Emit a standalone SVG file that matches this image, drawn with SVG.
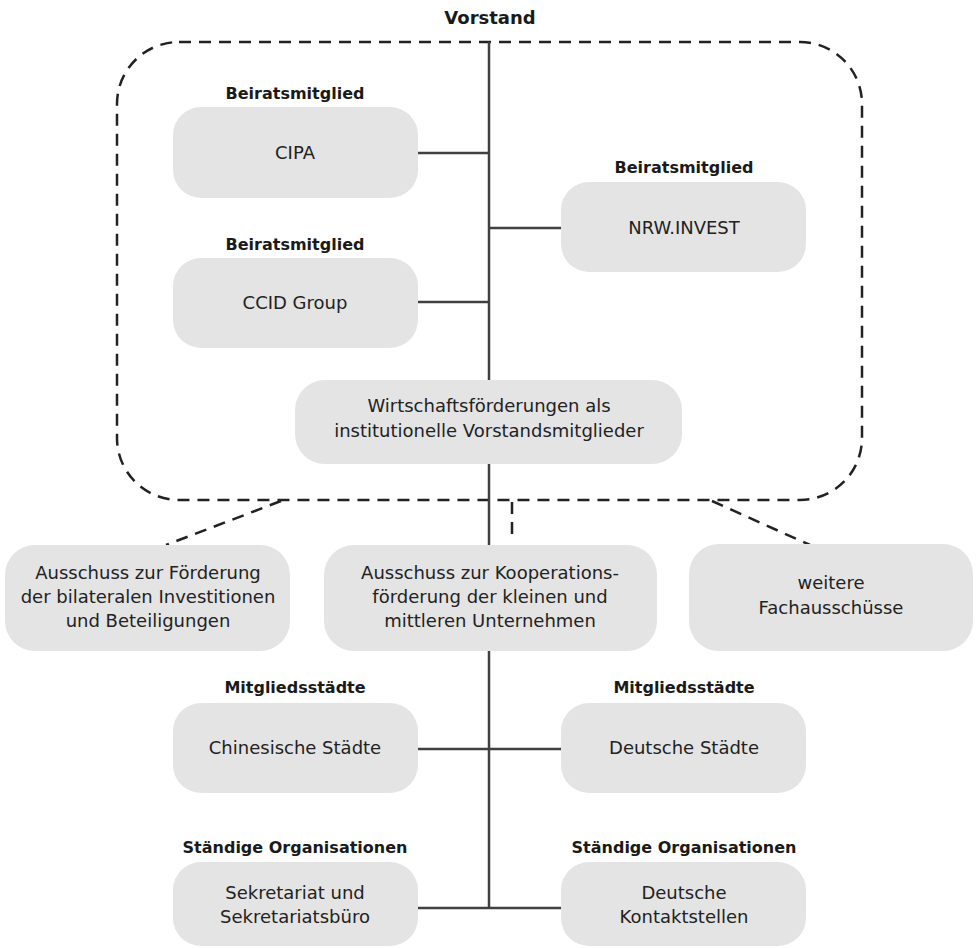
<svg xmlns="http://www.w3.org/2000/svg" width="976" height="948" viewBox="0 0 976 948">
<style>
.box{fill:#e4e4e4;}
.t{font-family:"DejaVu Sans",sans-serif;font-size:18px;fill:#222;text-anchor:middle;}
.lb{font-family:"DejaVu Sans",sans-serif;font-weight:bold;font-size:16px;fill:#1a1a1a;text-anchor:middle;}
.solid{stroke:#404040;stroke-width:2.5;fill:none;}
.dash{stroke:#222;stroke-width:2.5;fill:none;stroke-dasharray:12 8;}
</style>
<rect width="976" height="948" fill="#fff"/>
<g id="vorstand">
<rect class="dash" x="117" y="42" width="745" height="458" rx="62" ry="62"/>
<text class="lb" x="490" y="24" style="font-size:18px">Vorstand</text>
</g>
<g id="connectors">
<line class="solid" x1="489" y1="42" x2="489" y2="908"/>
<line class="solid" x1="417" y1="153" x2="489" y2="153"/>
<line class="solid" x1="489" y1="228" x2="562" y2="228"/>
<line class="solid" x1="417" y1="302" x2="489" y2="302"/>
<line class="solid" x1="417" y1="749" x2="562" y2="749"/>
<line class="solid" x1="417" y1="908" x2="562" y2="908"/>
<line class="dash" x1="281" y1="501" x2="166" y2="545"/>
<line class="dash" x1="512" y1="502" x2="512" y2="540"/>
<line class="dash" x1="712" y1="501" x2="810" y2="545"/>
</g>
<g id="cipa">
<text class="lb" x="295" y="99">Beiratsmitglied</text>
<rect class="box" x="173" y="107" width="245" height="91" rx="28"/>
<text class="t" x="295" y="159">CIPA</text>
</g>
<g id="nrw">
<text class="lb" x="684" y="173">Beiratsmitglied</text>
<rect class="box" x="561" y="182" width="245" height="90" rx="28"/>
<text class="t" x="684" y="234">NRW.INVEST</text>
</g>
<g id="ccid">
<text class="lb" x="295" y="250">Beiratsmitglied</text>
<rect class="box" x="173" y="258" width="245" height="90" rx="28"/>
<text class="t" x="295" y="309">CCID Group</text>
</g>
<g id="wirtschaft">
<rect class="box" x="295" y="380" width="387" height="84" rx="30"/>
<text class="t" x="489" y="412">Wirtschaftsförderungen als</text>
<text class="t" x="489" y="437">institutionelle Vorstandsmitglieder</text>
</g>
<g id="ausschuss1">
<rect class="box" x="5" y="545" width="285" height="106" rx="30"/>
<text class="t" x="148" y="579">Ausschuss zur Förderung</text>
<text class="t" x="148" y="603">der bilateralen Investitionen</text>
<text class="t" x="148" y="627">und Beteiligungen</text>
</g>
<g id="ausschuss2">
<rect class="box" x="324" y="545" width="333" height="106" rx="30"/>
<text class="t" x="490" y="579">Ausschuss zur Kooperations-</text>
<text class="t" x="490" y="603">förderung der kleinen und</text>
<text class="t" x="490" y="627">mittleren Unternehmen</text>
</g>
<g id="weitere">
<rect class="box" x="689" y="544" width="284" height="107" rx="30"/>
<text class="t" x="831" y="589">weitere</text>
<text class="t" x="831" y="614">Fachausschüsse</text>
</g>
<g id="chinesisch">
<text class="lb" x="295" y="693">Mitgliedsstädte</text>
<rect class="box" x="173" y="703" width="245" height="90" rx="28"/>
<text class="t" x="295" y="754">Chinesische Städte</text>
</g>
<g id="deutsch">
<text class="lb" x="684" y="693">Mitgliedsstädte</text>
<rect class="box" x="561" y="703" width="245" height="90" rx="28"/>
<text class="t" x="684" y="754">Deutsche Städte</text>
</g>
<g id="sekretariat">
<text class="lb" x="295" y="853">Ständige Organisationen</text>
<rect class="box" x="173" y="862" width="245" height="84" rx="28"/>
<text class="t" x="295" y="899">Sekretariat und</text>
<text class="t" x="295" y="923">Sekretariatsbüro</text>
</g>
<g id="kontakt">
<text class="lb" x="684" y="853">Ständige Organisationen</text>
<rect class="box" x="561" y="862" width="245" height="84" rx="28"/>
<text class="t" x="684" y="899">Deutsche</text>
<text class="t" x="684" y="923">Kontaktstellen</text>
</g>
</svg>
